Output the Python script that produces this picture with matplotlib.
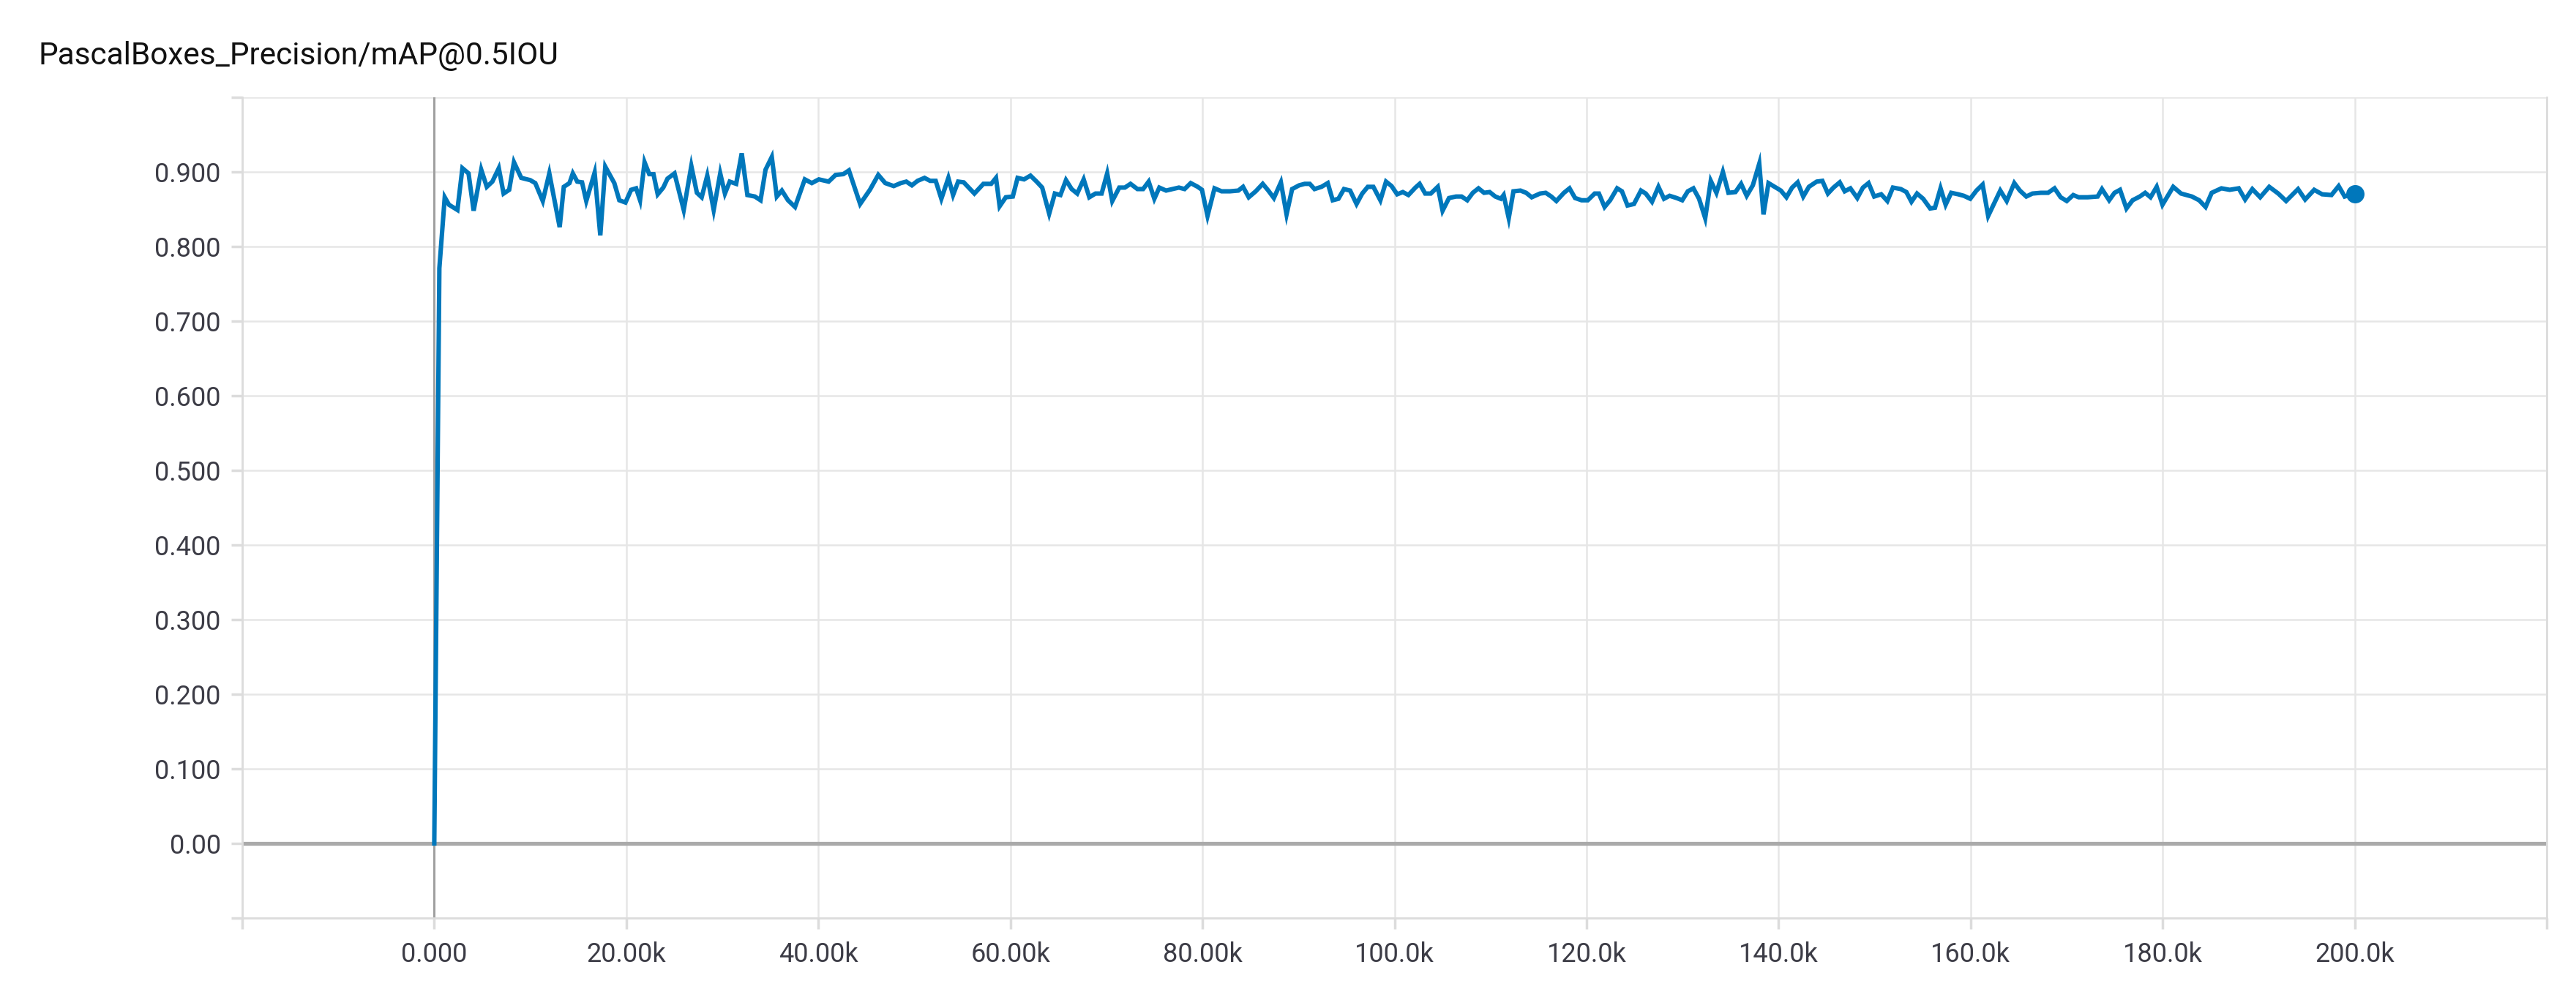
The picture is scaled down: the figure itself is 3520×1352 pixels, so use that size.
import numpy as np
import matplotlib
matplotlib.use("Agg")
import matplotlib.pyplot as plt

plt.rcParams['font.family'] = ['Roboto', 'DejaVu Sans']

title = "PascalBoxes_Precision/mAP@0.5IOU"

steps_k = [
    0.00, 0.53, 1.09, 1.53, 2.41, 2.93, 3.57, 4.10, 4.89, 5.47, 6.05, 6.72, 7.22, 7.80,
    8.30, 9.06, 9.99, 10.52, 11.30, 11.98, 13.06, 13.49, 14.08, 14.43, 14.89, 15.39,
    15.83, 16.70, 17.29, 17.81, 18.75, 19.27, 19.91, 20.50, 21.02, 21.43, 21.90, 22.39,
    22.83, 23.27, 23.85, 24.29, 25.02, 25.98, 26.77, 27.35, 27.85, 28.43, 29.10, 29.78,
    30.27, 30.77, 31.44, 32.02, 32.61, 33.39, 33.98, 34.50, 35.15, 35.67, 36.20, 36.84,
    37.57, 38.59, 39.32, 40.05, 41.07, 41.80,
    42.60, 43.18, 44.35, 45.37, 46.24, 46.97, 47.85, 48.58, 49.16, 49.74, 50.33, 51.06,
    51.64, 52.22, 52.81, 53.54, 54.03, 54.56, 55.14, 56.25, 57.19, 58.00, 58.50, 58.88,
    59.52, 60.25, 60.75, 61.42, 62.09, 62.73, 63.31, 64.04, 64.63, 65.21, 65.79, 66.38,
    66.96, 67.63, 68.22, 68.86, 69.50, 70.08, 70.61, 71.34, 71.92, 72.51, 73.23, 73.82,
    74.40, 74.99, 75.51, 76.21, 76.88, 77.55, 78.14, 78.78, 79.51, 79.95, 80.53, 81.26,
    81.99, 82.86, 83.74,
    84.23, 84.82, 85.55, 86.28, 86.86, 87.44, 88.17, 88.76, 89.34, 90.07, 90.65, 91.18,
    91.67, 92.40, 93.05, 93.57, 94.16, 94.74, 95.38, 96.05, 96.64, 97.22, 97.80, 98.53,
    99.12, 99.70, 100.28, 100.87, 101.45, 102.18, 102.62, 103.20, 103.78, 104.51, 105.01,
    105.68, 106.41, 106.99, 107.58, 108.16, 108.75, 109.33, 109.91, 110.50, 111.08,
    111.37, 111.90, 112.39, 113.12, 113.71, 114.29, 115.16, 115.75, 116.33, 116.86,
    117.65, 118.23, 118.81, 119.48, 120.13, 120.85, 121.29, 121.88, 122.46, 123.19,
    123.69, 124.27, 124.94, 125.67,
    126.17, 126.82, 127.49, 128.07, 128.65, 129.38, 129.97, 130.55, 131.13, 131.72,
    132.36, 132.94, 133.53, 134.20, 134.78, 135.51, 136.10, 136.68, 137.32, 137.99,
    138.43, 138.95, 139.60, 140.24, 140.82, 141.41, 141.99, 142.57, 143.16, 143.97,
    144.56, 145.14, 145.72, 146.37, 146.89, 147.48, 148.20, 148.79, 149.37, 149.96,
    150.69, 151.33, 151.91, 152.73, 153.31, 153.84, 154.42, 155.06, 155.79, 156.29,
    156.87, 157.40, 157.98, 158.71, 159.29, 159.96, 160.61, 161.25, 161.83, 162.42,
    163.09, 163.76, 164.55, 165.13, 165.80, 166.44, 167.32,
    168.07, 168.74, 169.38, 170.01, 170.69, 171.25, 172.19, 173.23, 173.68, 174.43,
    174.99, 175.56, 176.23, 176.87, 177.62, 178.18, 178.74, 179.38, 179.98, 181.10,
    181.92, 183.05, 183.80, 184.47, 185.11, 186.12, 186.98, 187.92, 188.59, 189.34,
    190.16, 191.10, 192.04, 192.86, 194.10, 194.84, 195.78, 196.61, 197.58, 198.33,
    198.96, 200.00,
]

map_values = [
    0.000, 0.771, 0.866, 0.856, 0.849, 0.905, 0.898, 0.848, 0.903, 0.880, 0.887, 0.905, 0.871, 0.876,
    0.913, 0.892, 0.889, 0.885, 0.861, 0.898, 0.826, 0.880, 0.885, 0.898, 0.887, 0.886,
    0.861, 0.899, 0.815, 0.907, 0.885, 0.862, 0.859, 0.876, 0.878, 0.862, 0.913, 0.897,
    0.897, 0.870, 0.879, 0.891, 0.898, 0.849, 0.908, 0.872, 0.866, 0.895, 0.849, 0.898,
    0.871, 0.887, 0.884, 0.925, 0.869, 0.867, 0.862, 0.903, 0.920, 0.867, 0.875, 0.862,
    0.853, 0.890, 0.885, 0.890, 0.887, 0.896,
    0.897, 0.902, 0.857, 0.876, 0.896, 0.885, 0.881, 0.885, 0.887, 0.882, 0.888, 0.892,
    0.888, 0.888, 0.864, 0.892, 0.869, 0.887, 0.886, 0.871, 0.884, 0.884, 0.892, 0.854,
    0.866, 0.867, 0.892, 0.890, 0.895, 0.887, 0.879, 0.844, 0.871, 0.869, 0.889, 0.877,
    0.871, 0.890, 0.866, 0.871, 0.871, 0.898, 0.861, 0.879, 0.879, 0.884, 0.877, 0.877,
    0.887, 0.864, 0.879, 0.875, 0.877, 0.879, 0.877, 0.885, 0.880, 0.876, 0.841, 0.878,
    0.874, 0.874, 0.875,
    0.880, 0.866, 0.874, 0.884, 0.875, 0.865, 0.886, 0.843, 0.877, 0.882, 0.884, 0.884,
    0.877, 0.880, 0.885, 0.862, 0.864, 0.877, 0.875, 0.857, 0.871, 0.880, 0.880, 0.862,
    0.887, 0.881, 0.870, 0.873, 0.869, 0.879, 0.884, 0.871, 0.871, 0.880, 0.848,
    0.865, 0.867, 0.867, 0.862, 0.872, 0.878, 0.872, 0.873, 0.867, 0.864,
    0.869, 0.838, 0.874, 0.875, 0.872, 0.866, 0.871, 0.872, 0.867, 0.861,
    0.872, 0.878, 0.865, 0.862, 0.862, 0.871, 0.871, 0.853, 0.862, 0.878,
    0.874, 0.855, 0.857, 0.875,
    0.871, 0.860, 0.880, 0.864, 0.868, 0.865, 0.862, 0.874, 0.878, 0.864,
    0.838, 0.888, 0.872, 0.900, 0.872, 0.873, 0.884, 0.868, 0.882, 0.911,
    0.843, 0.885, 0.880, 0.875, 0.866, 0.879, 0.886, 0.867, 0.880, 0.887,
    0.888, 0.871, 0.879, 0.886, 0.874, 0.878, 0.865, 0.879, 0.885, 0.867,
    0.870, 0.861, 0.879, 0.877, 0.873, 0.860, 0.871, 0.864, 0.851, 0.852,
    0.878, 0.856, 0.872, 0.870, 0.868, 0.864, 0.875, 0.883, 0.841, 0.857,
    0.875, 0.861, 0.885, 0.875, 0.867, 0.871, 0.872,
    0.872, 0.878, 0.866, 0.861, 0.869, 0.866, 0.866, 0.867, 0.877, 0.862,
    0.872, 0.876, 0.851, 0.862, 0.867, 0.872, 0.866, 0.880, 0.856, 0.880,
    0.871, 0.867, 0.862, 0.853, 0.872, 0.878, 0.876, 0.878, 0.863, 0.877,
    0.866, 0.880, 0.871, 0.861, 0.877, 0.863, 0.876, 0.870, 0.869, 0.881,
    0.867, 0.871,
]

x_ticks = [-20000, 0, 20000, 40000, 60000, 80000, 100000, 120000, 140000,
           160000, 180000, 200000, 220000]
x_tick_labels = ["", "0.000", "20.00k", "40.00k", "60.00k", "80.00k", "100.0k",
                 "120.0k", "140.0k", "160.0k", "180.0k", "200.0k", ""]
y_ticks = [-0.1, 0.0, 0.1, 0.2, 0.3, 0.4, 0.5, 0.6, 0.7, 0.8, 0.9, 1.0]
y_tick_labels = ["", "0.00", "0.100", "0.200", "0.300", "0.400", "0.500",
                 "0.600", "0.700", "0.800", "0.900", ""]

line_color = "#0077bb"
grid_color = "#e6e6e6"
label_color = "#3c3c46"

fig = plt.figure(figsize=(35.2, 13.52), dpi=100)
ax = fig.add_axes([331 / 3520, 97 / 1352, (3480 - 331) / 3520, (1255 - 133) / 1352])

x = np.array(steps_k) * 1000
y = np.array(map_values)

ax.set_xlim(x_ticks[0], x_ticks[-1])
ax.set_ylim(y_ticks[0], y_ticks[-1])

ax.set_xticks(x_ticks)
ax.set_xticklabels(x_tick_labels)
ax.set_yticks(y_ticks)
ax.set_yticklabels(y_tick_labels)

ax.grid(True, color=grid_color, linewidth=1.8, zorder=0)
ax.set_axisbelow(True)

for side in ["top", "right", "left", "bottom"]:
    ax.spines[side].set_color("#dcdcdc")
    ax.spines[side].set_linewidth(2.0)
ax.spines["top"].set_visible(False)

ax.tick_params(axis="both", colors="#dcdcdc", width=2.5, length=11,
               labelcolor=label_color, labelsize=26)
ax.tick_params(axis="y", pad=10)
ax.tick_params(axis="x", pad=12)

ax.axhline(0, color="#aaaaaa", linewidth=3.8, zorder=1)
ax.axvline(0, color="#a0a0a0", linewidth=2.2, zorder=1)

ax.plot(x, y, color=line_color, linewidth=4.4, zorder=3, solid_joinstyle="miter")
ax.plot(x[-1:], y[-1:], marker="o", markersize=17, color=line_color, zorder=4,
        linestyle="none")

fig.text(52 / 3520, 1 - 88 / 1352, title, fontsize=30.5, color="#111111",
         ha="left", va="baseline")

fig.savefig("out.png", dpi=100, facecolor="white")
